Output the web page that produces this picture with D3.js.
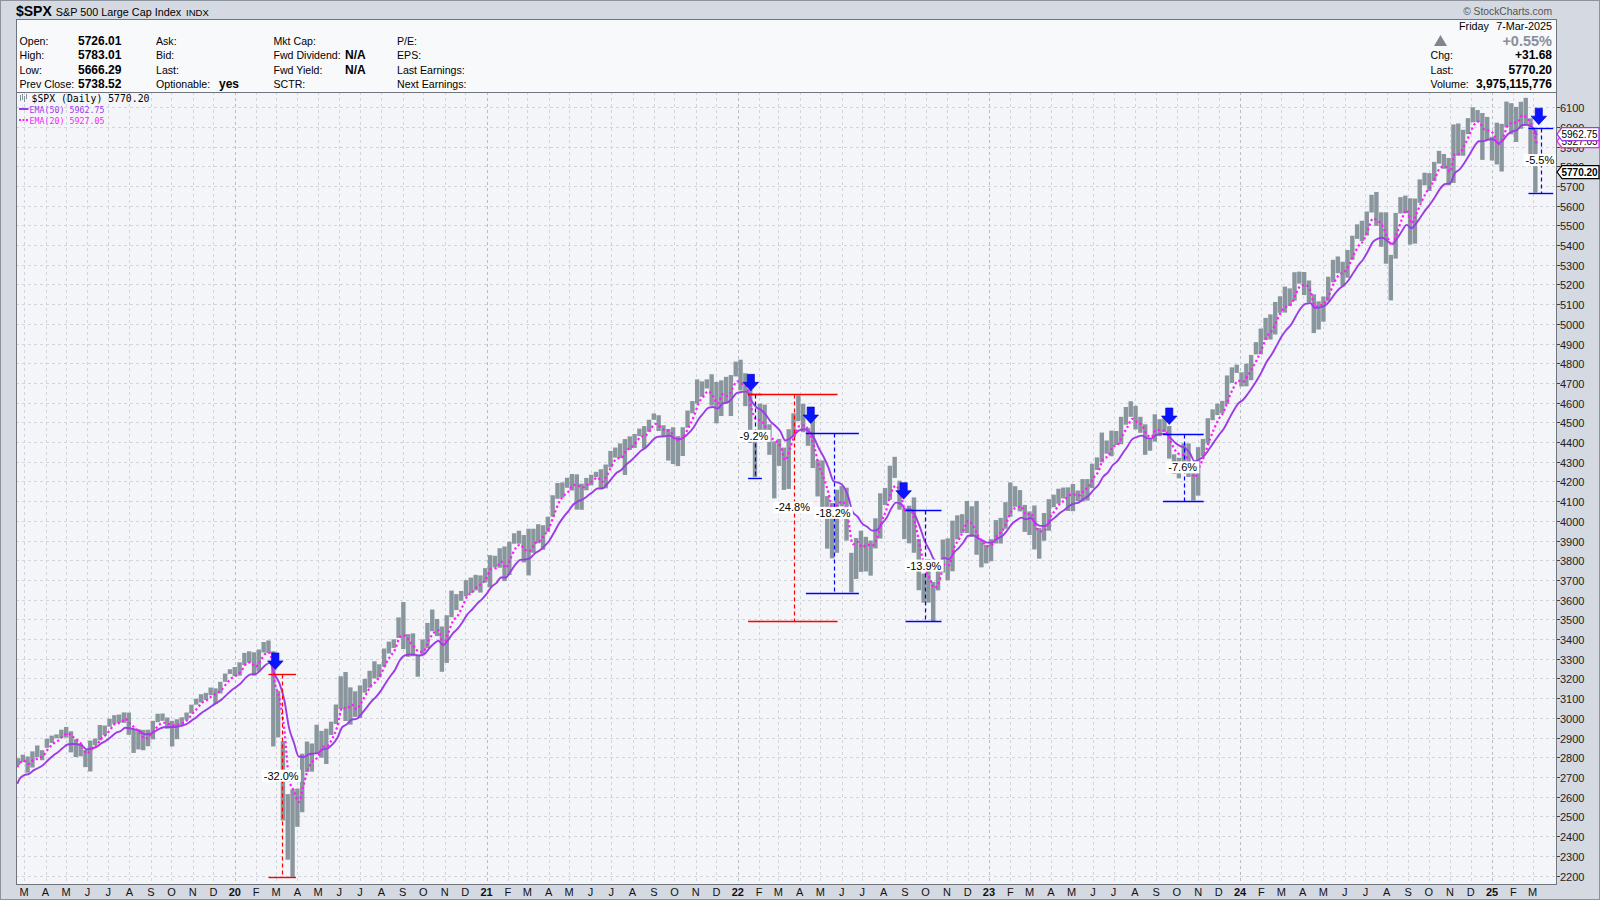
<!DOCTYPE html>
<html><head><meta charset="utf-8">
<script src="https://cdn.jsdelivr.net/npm/d3@7"></script>
<style>
html,body{margin:0;padding:0;background:#d5d9e2;}
svg{display:block;font-family:"Liberation Sans",Arial,sans-serif;}
</style></head><body>
<svg id="c" width="1600" height="900"></svg>
<script>
// ---------------- DATA (weekly bars, week of 18-Feb-2019 .. week of 3-Mar-2025) -------------
const firstWeekMonday = "2019-02-18";
const weekClose = [
 2793,2804,2743,2822,2800,2834,2893,2907,2905,2940,2946,2881,2860,2826,2752,2873,2887,2950,2942,2990,3014,2977,3026,2932,2919,2889,2847,2926,2979,3007,2992,2961,2952,2970,2986,3023,3067,3093,3120,3110,3141,3146,3169,3221,3240,
 3235,3265,3330,3295,3226,3328,3380,3338,2954,2972,2711,2305,2541,2489,2790,2875,2837,2831,2930,2864,2955,3044,3194,3041,3098,3009,3130,3185,3225,3216,3271,3351,3373,3397,3508,3427,3341,3319,3298,3348,3477,3484,3465,3270,3509,3585,3558,3638,3699,3663,3709,3703,3756,
 3825,3768,3841,3714,3887,3934,3907,3811,3842,3943,3913,3975,4020,4129,4185,4180,4181,4233,4174,4156,4204,4230,4247,4166,4281,4352,4370,4327,4412,4395,4437,4468,4442,4509,4535,4458,4432,4455,4357,4391,4471,4545,4605,4697,4683,4698,4595,4538,4712,4621,4726,4766,
 4677,4662,4398,4432,4500,4419,4349,4385,4329,4204,4463,4543,4546,4488,4393,4272,4132,4123,4023,3901,4158,4109,3901,3675,3912,3825,3899,3863,3962,4130,4145,4280,4228,4058,3924,4067,3873,3693,3586,3640,3583,3753,3901,3771,3993,3965,4026,4072,3934,3852,3845,3840,
 3895,3999,3973,4071,4136,4090,4079,3970,4046,3862,3917,3971,4109,4105,4137,4133,4169,4136,4124,4192,4205,4282,4299,4410,4348,4450,4399,4505,4536,4582,4478,4464,4370,4406,4516,4457,4450,4320,4288,4308,4327,4224,4117,4358,4415,4514,4559,4594,4604,4719,4754,4769,
 4697,4783,4839,4890,4958,5026,5005,5088,5137,5123,5117,5234,5254,5204,5123,4967,5100,5128,5223,5303,5305,5278,5347,5432,5465,5460,5567,5615,5505,5459,5346,5344,5554,5635,5648,5408,5626,5703,5738,5751,5815,5865,5808,5729,5995,5871,5969,6032,6090,6051,5931,5971,
 5942,5827,5997,6101,6040,6026,6115,6013,5955,5770
];
const weekHigh = [
 2795,2813,2804,2830,2860,2836,2894,2910,2916,2940,2954,2932,2892,2868,2837,2885,2895,2964,2961,2996,3014,3017,3028,3027,2944,2943,2939,2940,2985,3021,3022,3002,2985,2993,3003,3027,3067,3097,3120,3127,3154,3150,3183,3225,3247,
 3258,3282,3330,3338,3333,3347,3385,3393,3338,3137,2882,2613,2637,2641,2818,2880,2870,2965,2934,2945,2981,3068,3211,3233,3155,3135,3165,3198,3239,3287,3272,3352,3387,3399,3510,3588,3425,3429,3320,3398,3482,3550,3502,3464,3521,3646,3628,3644,3699,3712,3726,3723,3760,
 3826,3823,3861,3870,3894,3937,3950,3928,3960,3960,3983,3978,4021,4130,4192,4195,4219,4238,4236,4189,4218,4234,4249,4262,4286,4355,4372,4393,4415,4429,4441,4468,4481,4513,4545,4536,4485,4466,4475,4430,4475,4560,4608,4718,4708,4718,4744,4705,4713,4731,4740,4808,
 4818,4749,4665,4453,4595,4590,4490,4403,4416,4372,4465,4546,4637,4594,4471,4513,4308,4307,4126,4091,4158,4177,4168,3838,3913,3950,3919,3900,4013,4140,4167,4280,4325,4204,4062,4077,4119,3907,3733,3806,3690,3762,3905,3911,4001,4028,4034,4101,4074,4101,3902,3878,
 3907,4004,4015,4095,4195,4176,4156,4081,4048,4078,3964,4040,4110,4133,4163,4169,4170,4187,4154,4212,4212,4290,4322,4448,4408,4458,4456,4528,4578,4607,4584,4528,4490,4418,4541,4516,4527,4481,4338,4320,4393,4393,4259,4374,4416,4521,4566,4595,4609,4738,4779,4793,
 4754,4798,4842,4907,4976,5030,5048,5111,5140,5189,5180,5262,5265,5263,5220,5150,5114,5139,5239,5325,5342,5315,5375,5447,5505,5523,5570,5655,5669,5566,5566,5350,5563,5643,5651,5637,5636,5733,5767,5765,5822,5878,5862,5842,6012,6017,5985,6044,6099,6085,6070,6050,
 5949,6021,6015,6128,6120,6101,6127,6147,6043,5986
];
const weekLow = [
 2760,2775,2722,2748,2800,2785,2848,2873,2896,2898,2900,2825,2801,2805,2750,2728,2862,2886,2912,2955,2970,2975,2975,2914,2822,2840,2836,2856,2891,2978,2985,2945,2855,2892,2963,2991,3023,3067,3078,3091,3115,3070,3124,3183,3223,
 3212,3214,3268,3280,3215,3235,3332,3328,2855,2901,2479,2280,2191,2447,2521,2725,2727,2816,2798,2766,2913,2969,3044,2984,2966,3005,2999,3128,3153,3200,3205,3260,3327,3355,3406,3349,3310,3313,3209,3323,3354,3440,3415,3234,3279,3511,3547,3594,3617,3633,3647,3636,3687,
 3663,3764,3762,3694,3725,3884,3884,3789,3723,3838,3886,3853,3944,4021,4112,4118,4168,4154,4057,4056,4155,4180,4222,4164,4165,4271,4321,4318,4233,4360,4370,4430,4367,4452,4513,4456,4430,4306,4288,4278,4329,4473,4546,4595,4630,4672,4585,4495,4532,4600,4532,4733,
 4662,4582,4395,4222,4435,4402,4335,4114,4279,4157,4162,4424,4506,4450,4381,4268,4124,4062,3859,3810,3838,4074,3900,3637,3705,3741,3743,3722,3860,3910,4080,4107,4218,4057,3907,3886,3838,3648,3585,3585,3491,3647,3738,3698,3744,3906,3938,3938,3919,3828,3764,3784,
 3795,3885,3885,3960,4021,4072,4048,3944,3928,3855,3808,3899,3950,4069,4087,4114,4050,4049,4099,4098,4103,4166,4258,4297,4341,4328,4385,4389,4488,4528,4464,4447,4335,4356,4402,4430,4450,4316,4238,4216,4283,4223,4103,4128,4329,4393,4511,4537,4546,4593,4700,4751,
 4682,4683,4714,4845,4845,4918,4920,4946,5056,5057,5091,5117,5204,5146,5108,4953,4971,5011,5114,5211,5257,5191,5234,5325,5431,5420,5448,5565,5497,5391,5305,5119,5331,5560,5561,5402,5407,5614,5703,5674,5725,5813,5787,5703,5715,5853,5853,5963,6023,6024,5832,5932,
 5829,5809,5773,5999,5962,5923,5990,6009,5837,5666
];
// EMA starting levels at the left edge of the chart
const ema50Start = 2665;
const ema20Start = 2750;
// Weekly equivalents of the daily EMA periods (5 sessions per week)
const ema50WeeklySpan = 10;
const ema20WeeklySpan = 4;

const yTickValues = [2200,2300,2400,2500,2600,2700,2800,2900,3000,3100,3200,3300,3400,3500,3600,3700,3800,3900,4000,4100,4200,4300,4400,4500,4600,4700,4800,4900,5000,5100,5200,5300,5400,5500,5600,5700,5800,5900,6000,6100];
const monthLetters = ["J","F","M","A","M","J","J","A","S","O","N","D"];

// Drawdown annotations: top/bottom price, horizontal extent and dashed-line date
const ddLabels  = ["-9.2%","-32.0%","-24.8%","-18.2%","-13.9%","-7.6%","-5.5%"];
const ddColors  = ["#0000ff","#ff0000","#ff0000","#0000ff","#0000ff","#0000ff","#0000ff"];
const ddTop     = [4645,3222,4645,4445,4055,4440,5996];
const ddBottom  = [4218,2191,3491,3636,3491,4103,5666];
const ddStart   = ["2022-01-16","2020-02-19","2022-01-16","2022-04-10","2022-09-02","2023-09-11","2025-02-23"];
const ddEnd     = ["2022-02-05","2020-03-30","2022-05-26","2022-06-26","2022-10-24","2023-11-09","2025-03-31"];
const ddDash    = ["2022-01-26","2020-03-10","2022-03-23","2022-05-21","2022-09-30","2023-10-11","2025-03-13"];
// Blue sell arrows (date, price at the arrow tip)
const arrowDates  = ["2020-02-29","2022-01-20","2022-04-17","2022-08-30","2023-09-20","2025-03-10"];
const arrowPrices = [3246,4660,4494,4110,4489,6011];

// ---------------- CHART ----------------
const svg = d3.select("#c");
const P = {l:16, r:1556, t:92, b:884};
const parse = d3.timeParse("%Y-%m-%d");
const x = d3.scaleTime().domain([new Date(2019,1,19), new Date(2025,3,4)]).range([17.3, 1556]);
const y = d3.scaleLinear().domain([2200, 6100]).range([875.5, 107.1]);

const t0 = parse(firstWeekMonday);
const bars = weekClose.map((c,i)=>({
  mid: d3.timeDay.offset(t0, 7*i+2),
  fri: d3.timeDay.offset(t0, 7*i+4),
  c, h: weekHigh[i], l: weekLow[i]
}));
function ema(vals, span, start){ const a = 2/(span+1); let e = start; return vals.map(v => (e = e + a*(v-e))); }
const e50 = ema(weekClose, ema50WeeklySpan, ema50Start);
const e20 = ema(weekClose, ema20WeeklySpan, ema20Start);
const e50pts = [{d:x.domain()[0], v:ema50Start}].concat(bars.map((b,i)=>({d:b.fri, v:e50[i]})));
const e20pts = [{d:x.domain()[0], v:ema20Start}].concat(bars.map((b,i)=>({d:b.fri, v:e20[i]})));

// background pieces
svg.append("rect").attr("x",0).attr("y",0).attr("width",1600).attr("height",900).attr("fill","#d5d9e2");
svg.append("rect").attr("x",0.5).attr("y",0.5).attr("width",1599).attr("height",899).attr("fill","none").attr("stroke","#8d939d");
svg.append("rect").attr("x",P.l+0.5).attr("y",19.5).attr("width",P.r-P.l).attr("height",P.t-19).attr("fill","#f8f9fb").attr("stroke","#6f747d");
svg.append("rect").attr("x",P.l+0.5).attr("y",P.t+0.5).attr("width",P.r-P.l).attr("height",P.b-P.t).attr("fill","#f4f5f9").attr("stroke","#6f747d");

// title bar
const title = svg.append("text").attr("x",16).attr("y",16);
title.append("tspan").attr("font-weight","bold").attr("font-size",14).text("$SPX");
title.append("tspan").attr("font-size",10.8).attr("dx",4).text("S&P 500 Large Cap Index");
title.append("tspan").attr("font-size",9.5).attr("dx",5).text("INDX");
svg.append("text").attr("x",1552).attr("y",15).attr("text-anchor","end").attr("font-size",10.3).attr("fill","#555").text("© StockCharts.com");

// info panel
const rowsY = [45,59,73.5,88];
const col = (xp, labels, opts={}) => labels.forEach((t,i)=>{ if(t) svg.append("text").attr("x",xp).attr("y",rowsY[i]).attr("font-size",opts.size||10.6).attr("font-weight",opts.bold?"bold":null).attr("text-anchor",opts.anchor||"start").attr("fill",opts.fill||"#000").text(t); });
col(19.5, ["Open:","High:","Low:","Prev Close:"]);
col(78, ["5726.01","5783.01","5666.29","5738.52"], {bold:true, size:12});
col(156, ["Ask:","Bid:","Last:","Optionable:"]);
col(219, [null,null,null,"yes"], {bold:true, size:12});
col(273.5, ["Mkt Cap:","Fwd Dividend:","Fwd Yield:","SCTR:"]);
col(345, [null,"N/A","N/A",null], {bold:true, size:12});
col(397, ["P/E:","EPS:","Last Earnings:","Next Earnings:"]);
svg.append("text").attr("x",1459).attr("y",30).attr("font-size",10.8).text("Friday");
svg.append("text").attr("x",1552).attr("y",30).attr("font-size",10.8).attr("text-anchor","end").text("7-Mar-2025");
svg.append("text").attr("x",1552).attr("y",46).attr("font-size",14.5).attr("font-weight","bold").attr("text-anchor","end").attr("fill","#8a8f98").text("+0.55%");
svg.append("path").attr("d","M1434,46 L1440.5,35 L1447,46 Z").attr("fill","#80858f");
col(1430.5, [null,"Chg:","Last:","Volume:"]);
col(1552, [null,"+31.68","5770.20","3,975,115,776"], {bold:true, size:12, anchor:"end"});

// clip
svg.append("clipPath").attr("id","clip").append("rect").attr("x",P.l+1).attr("y",P.t+1).attr("width",P.r-P.l-1).attr("height",P.b-P.t-1);
const plot = svg.append("g").attr("clip-path","url(#clip)");

// grid
const months = d3.timeMonth.range(new Date(2019,2,1), new Date(2025,3,1));
plot.selectAll("line.vg").data(months).join("line")
  .attr("x1",d=>Math.round(x(d))+0.5).attr("x2",d=>Math.round(x(d))+0.5).attr("y1",P.t).attr("y2",P.b)
  .attr("stroke",d=>d.getMonth()===0?"#b9bcc3":"#d3d5da").attr("stroke-dasharray","3,3");
plot.selectAll("line.hg").data(yTickValues).join("line")
  .attr("x1",P.l).attr("x2",P.r).attr("y1",d=>Math.round(y(d))+0.5).attr("y2",d=>Math.round(y(d))+0.5)
  .attr("stroke","#d3d5da").attr("stroke-dasharray","3,3");

// price bars
plot.selectAll("rect.bar").data(bars).join("rect")
  .attr("x",d=>x(d.mid)-2.2).attr("width",4.4)
  .attr("y",d=>y(d.h)).attr("height",d=>Math.max(1,y(d.l)-y(d.h)))
  .attr("fill","#8a969d");

// EMAs
const line = d3.line().x(d=>x(d.d)).y(d=>y(d.v)).curve(d3.curveMonotoneX);
plot.append("path").datum(e50pts).attr("d",line).attr("fill","none").attr("stroke","#9b3de6").attr("stroke-width",1.9);
plot.append("path").datum(e20pts).attr("d",line).attr("fill","none").attr("stroke","#ff1aff").attr("stroke-width",2.2).attr("stroke-dasharray","2.2,2.6");

// drawdown annotations
ddLabels.forEach((lab,i)=>{
  const xa = x(parse(ddStart[i])), xb = x(parse(ddEnd[i])), xd = Math.round(x(parse(ddDash[i])))+0.5;
  const yt = Math.round(y(ddTop[i]))+0.5, yb = Math.round(y(ddBottom[i]))+0.5;
  const g = plot.append("g");
  g.append("line").attr("x1",xa).attr("x2",xb).attr("y1",yt).attr("y2",yt).attr("stroke",ddColors[i]).attr("stroke-width",1.4);
  g.append("line").attr("x1",xa).attr("x2",xb).attr("y1",yb).attr("y2",yb).attr("stroke",ddColors[i]).attr("stroke-width",1.4);
  g.append("line").attr("x1",xd).attr("x2",xd).attr("y1",yt).attr("y2",yb).attr("stroke",ddColors[i]).attr("stroke-width",1.2).attr("stroke-dasharray","4,3");
});
ddLabels.forEach((lab,i)=>{
  const xd = x(parse(ddDash[i])); const ym = y((ddTop[i]+ddBottom[i])/2);
  const t = plot.append("text").attr("x",xd-1).attr("y",ym+4).attr("text-anchor","middle").attr("font-size",11).attr("fill","#000").text(lab);
  const bb = t.node().getBBox();
  plot.insert("rect", () => t.node()).attr("x",bb.x-2).attr("y",bb.y).attr("width",bb.width+4).attr("height",bb.height).attr("fill","#ffffff");
});

// arrows
arrowDates.forEach((d,i)=>{
  const cx = x(parse(d)), ty = y(arrowPrices[i]);
  plot.append("path").attr("d",`M${cx-3.6},${ty-16.5} L${cx+3.6},${ty-16.5} L${cx+3.6},${ty-8.5} L${cx+7.8},${ty-8.5} L${cx},${ty} L${cx-7.8},${ty-8.5} L${cx-3.6},${ty-8.5} Z`)
    .attr("fill","#0a14ff").attr("stroke","#0000c8").attr("stroke-width",0.6);
});

// legend
const lg = svg.append("g");
[[20,95,101],[22,94,100],[24,96,102],[26,94,99]].forEach(a=> lg.append("line").attr("x1",a[0]+0.5).attr("x2",a[0]+0.5).attr("y1",a[1]).attr("y2",a[2]).attr("stroke","#87939a").attr("stroke-width",1));
lg.append("text").attr("x",31.5).attr("y",102).attr("font-family","DejaVu Sans Mono, monospace").attr("font-size",9.8).text("$SPX (Daily) 5770.20");
lg.append("line").attr("x1",19).attr("x2",28.5).attr("y1",109).attr("y2",109).attr("stroke","#9b3de6").attr("stroke-width",2);
lg.append("text").attr("x",29.5).attr("y",112.5).attr("font-family","DejaVu Sans Mono, monospace").attr("font-size",8.3).attr("fill","#9b3de6").text("EMA(50) 5962.75");
lg.append("line").attr("x1",19).attr("x2",28.5).attr("y1",120).attr("y2",120).attr("stroke","#ff1aff").attr("stroke-width",2).attr("stroke-dasharray","2,1.5");
lg.append("text").attr("x",29.5).attr("y",123.5).attr("font-family","DejaVu Sans Mono, monospace").attr("font-size",8.3).attr("fill","#ff1aff").text("EMA(20) 5927.05");

// right axis
const ax = svg.append("g");
yTickValues.forEach(v=>{
  const yy = Math.round(y(v))+0.5;
  ax.append("line").attr("x1",P.r+1).attr("x2",P.r+4).attr("y1",yy).attr("y2",yy).attr("stroke","#444");
  ax.append("text").attr("x",P.r+4).attr("y",yy+4).attr("font-size",11).attr("fill","#222").text(v);
});
// value tags (EMA20 tag drawn first, partly covered by the EMA50 tag as in the original)
const tagTexts = ["5927.05","5962.75","5770.20"];
const tagVals = [5927.05, 5962.75, 5770.20];
const tagColors = ["#ff1aff","#9b3de6","#000"];
tagTexts.forEach((t,i)=>{
  const yy = y(tagVals[i]);
  ax.append("path").attr("d",`M${P.r+1},${yy} L${P.r+6},${yy-6.5} L1599,${yy-6.5} L1599,${yy+6.5} L${P.r+6},${yy+6.5} Z`)
    .attr("fill","#ffffff").attr("stroke",tagColors[i]).attr("stroke-width",1.2);
  ax.append("text").attr("x",P.r+5.5).attr("y",yy+3.6).attr("font-size",10).attr("font-weight",i===2?"bold":null).attr("fill","#000").text(t);
});

// bottom axis
svg.selectAll("text.mx").data(months).join("text")
  .attr("x",d=>x(d)).attr("y",896).attr("text-anchor","middle")
  .attr("font-size",11).attr("font-weight",d=>d.getMonth()===0?"bold":null).attr("fill","#111")
  .text(d=> d.getMonth()===0 ? d3.timeFormat("%y")(d) : monthLetters[d.getMonth()]);
</script>
</body></html>
